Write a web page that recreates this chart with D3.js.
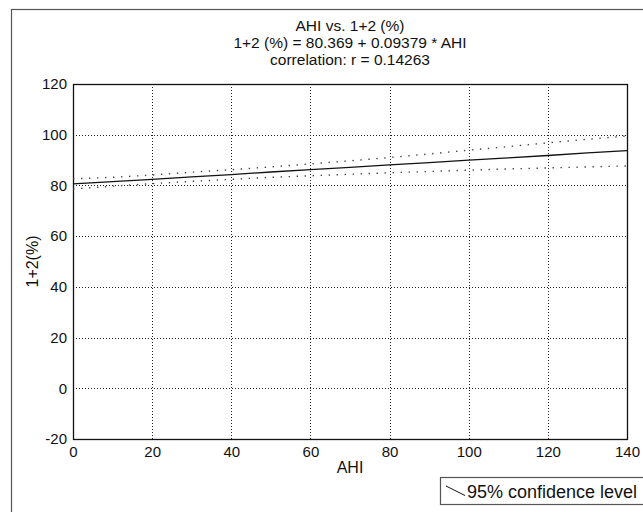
<!DOCTYPE html>
<html>
<head>
<meta charset="utf-8">
<script src="https://cdn.jsdelivr.net/npm/d3@7"></script>
<style>
  body { margin: 0; background: #fff; }
  svg { display: block; font-family: "Liberation Sans", Arial, sans-serif; }
</style>
</head>
<body>
<div id="chart"></div>
<script>
const WIDTH = 643, HEIGHT = 512;
const M = { left: 73, right: 16, top: 84, bottom: 73 }; // plot box 73..627, 84..439

// data
const titleLines = ["AHI vs. 1+2 (%)", "1+2 (%) = 80.369 + 0.09379 * AHI", "correlation: r = 0.14263"];
const ahi = [0, 10, 20, 30, 40, 50, 60, 70, 80, 90, 100, 110, 120, 130, 140];
const fit = [80.6, 81.5, 82.4, 83.4, 84.3, 85.3, 86.2, 87.1, 88.1, 89.0, 90.0, 90.9, 91.8, 92.8, 93.7];
const upper = [82.6, 83.2, 84.1, 85.2, 86.2, 87.3, 88.5, 89.7, 91.0, 92.4, 93.9, 95.3, 96.8, 98.2, 99.5];
const lower = [78.6, 79.7, 80.7, 81.6, 82.4, 83.2, 83.8, 84.4, 85.0, 85.5, 86.0, 86.5, 86.9, 87.3, 87.7];
const xTicks = [0, 20, 40, 60, 80, 100, 120, 140];
const yTicks = [-20, 0, 20, 40, 60, 80, 100, 120];

const svg = d3.select("#chart").append("svg")
    .attr("width", WIDTH)
    .attr("height", HEIGHT)

// outer figure frame
svg.append("rect")
    .attr("x", 11.5).attr("y", 9.5)
    .attr("width", 700).attr("height", 600)
    .attr("fill", "#fff").attr("stroke", "#555").attr("stroke-width", 1.2)

const x = d3.scaleLinear().domain([0, 140]).range([M.left, WIDTH - M.right]);
const y = d3.scaleLinear().domain([-20, 120]).range([HEIGHT - M.bottom, M.top]);

const plot = svg.append("g")

// grid
plot.selectAll("line.vgrid").data(xTicks.slice(1, -1)).enter().append("line")
    .attr("class", "vgrid")
    .attr("x1", d => Math.round(x(d)) + 0.5).attr("x2", d => Math.round(x(d)) + 0.5)
    .attr("y1", y(120)).attr("y2", y(-20))
    .attr("stroke", "#222").attr("stroke-width", 1).attr("stroke-dasharray", "1,2")
plot.selectAll("line.hgrid").data(yTicks.slice(1, -1)).enter().append("line")
    .attr("class", "hgrid")
    .attr("y1", d => Math.round(y(d)) + 0.5).attr("y2", d => Math.round(y(d)) + 0.5)
    .attr("x1", x(0)).attr("x2", x(140))
    .attr("stroke", "#222").attr("stroke-width", 1).attr("stroke-dasharray", "1,2")

// axes
const fmt = d => String(d); // plain hyphen for negatives
const xAxis = d3.axisBottom(x).tickValues(xTicks).tickFormat(fmt).tickSize(0).tickPadding(7);
const yAxis = d3.axisLeft(y).tickValues(yTicks).tickFormat(fmt).tickSize(0).tickPadding(6);
svg.append("g")
    .attr("transform", `translate(0,${y(-20)})`)
    .call(xAxis)
    .call(g => g.select(".domain").remove())
    .selectAll("text").attr("font-size", 15).attr("fill", "#111").attr("font-family", "Liberation Sans, Arial, sans-serif")
svg.append("g")
    .attr("transform", `translate(${x(0)},0)`)
    .call(yAxis)
    .call(g => g.select(".domain").remove())
    .selectAll("text").attr("font-size", 15).attr("fill", "#111").attr("font-family", "Liberation Sans, Arial, sans-serif")

// plot box
svg.append("rect")
    .attr("x", x(0) + 0.5).attr("y", y(120) + 0.5)
    .attr("width", x(140) - x(0)).attr("height", y(-20) - y(120))
    .attr("fill", "none").attr("stroke", "#111").attr("stroke-width", 1.3)

const line = d3.line().x((d, i) => x(ahi[i])).y(d => y(d));

// confidence bands
[upper, lower].forEach(band => {
    svg.append("path")
        .attr("d", line(band))
        .attr("fill", "none").attr("stroke", "#444").attr("stroke-width", 1.4)
        .attr("stroke-dasharray", "1.4,6.6")
})
// regression line
svg.append("path")
    .attr("d", line(fit))
    .attr("fill", "none").attr("stroke", "#111").attr("stroke-width", 1.3)

// titles
svg.selectAll("text.title").data(titleLines).enter().append("text")
    .attr("class", "title")
    .attr("x", (x(0) + x(140)) / 2)
    .attr("y", (d, i) => 31 + i * 17)
    .attr("text-anchor", "middle")
    .attr("font-size", 15.5).attr("fill", "#111")
    .text(d => d)

svg.append("text")
    .attr("x", (x(0) + x(140)) / 2).attr("y", 473)
    .attr("text-anchor", "middle").attr("font-size", 16).attr("fill", "#111")
    .text("AHI")
svg.append("text")
    .attr("transform", `translate(38,${(y(120) + y(-20)) / 2}) rotate(-90)`)
    .attr("text-anchor", "middle").attr("font-size", 16).attr("fill", "#111")
    .text("1+2(%)")

// legend
const legend = svg.append("g")
legend.append("rect")
    .attr("x", 440.5).attr("y", 477.5).attr("width", 260).attr("height", 27)
    .attr("fill", "#fff").attr("stroke", "#555").attr("stroke-width", 1.2)
legend.append("line")
    .attr("x1", 446).attr("y1", 486).attr("x2", 465).attr("y2", 495.5)
    .attr("stroke", "#111").attr("stroke-width", 1)
legend.append("text")
    .attr("x", 467).attr("y", 498)
    .attr("font-size", 18).attr("fill", "#111")
    .text("95% confidence level")
</script>
</body>
</html>
